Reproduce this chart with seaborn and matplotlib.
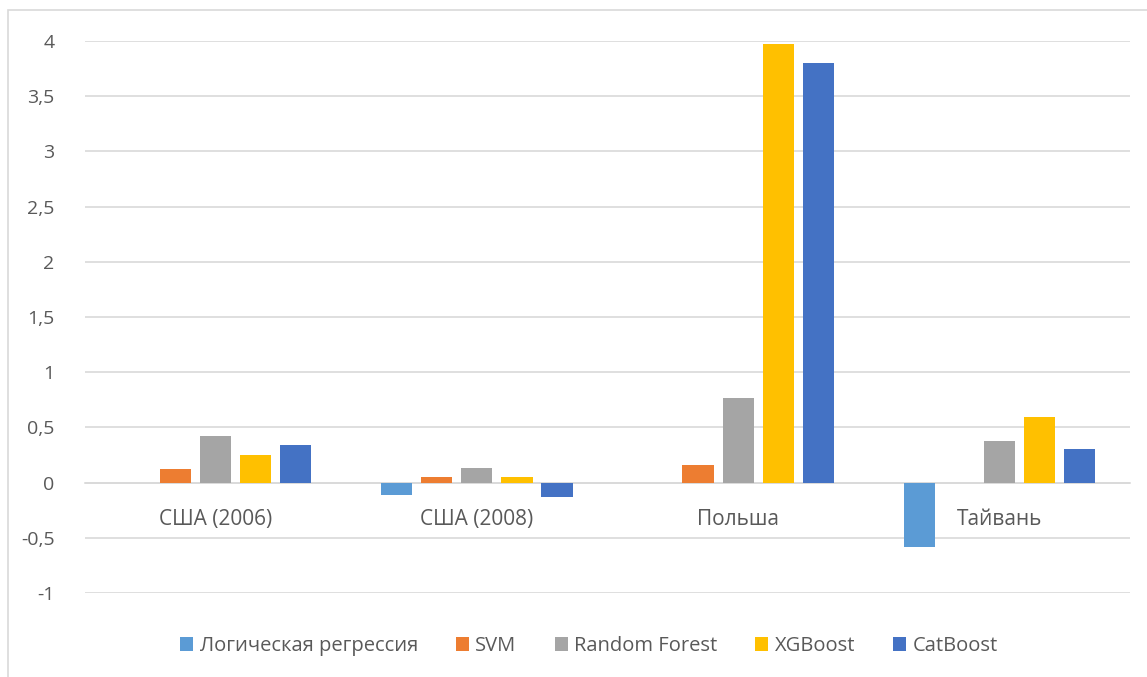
import matplotlib
matplotlib.use("Agg")
import matplotlib.pyplot as plt
import matplotlib.ticker as mticker
from matplotlib.patches import Rectangle
import seaborn as sns
import pandas as pd

categories = ["США (2006)", "США (2008)", "Польша", "Тайвань"]
models = ["Логическая регрессия", "SVM", "Random Forest", "XGBoost", "CatBoost"]
logreg = [0.0, -0.11, 0.0, -0.58]
svm = [0.12, 0.05, 0.16, 0.0]
rforest = [0.425, 0.135, 0.765, 0.375]
xgboost = [0.25, 0.05, 3.97, 0.595]
catboost = [0.34, -0.13, 3.80, 0.30]
colors = ["#5B9BD5", "#ED7D31", "#A5A5A5", "#FFC000", "#4472C4"]
yticks = [-1, -0.5, 0, 0.5, 1, 1.5, 2, 2.5, 3, 3.5, 4]

series = [logreg, svm, rforest, xgboost, catboost]
rows = []
for m, vals in zip(models, series):
    for c, v in zip(categories, vals):
        rows.append({"cat": c, "model": m, "value": v})
df = pd.DataFrame(rows)

sns.set_theme(style="white")
plt.rcParams["font.family"] = ["Open Sans", "DejaVu Sans"]

fig = plt.figure(figsize=(11.47, 6.77), dpi=100)
ax = fig.add_axes([85 / 1147, 1 - 593 / 677, (1130 - 85) / 1147, (593 - 41) / 677])

sns.barplot(data=df, x="cat", y="value", hue="model", order=categories,
            hue_order=models, palette=colors, width=0.766, gap=0.22,
            saturation=1, ax=ax, zorder=3, linewidth=0)

ax.set_ylim(-1, 4)
ax.set_xlim(-0.5, 3.5)
ax.set_yticks(yticks)
ax.yaxis.set_major_formatter(mticker.FuncFormatter(
    lambda v, p: ("%g" % v).replace(".", ",")))
ax.grid(axis="y", color="#d9d9d9", linewidth=1.2, zorder=0)
ax.set_axisbelow(True)
for s in ["top", "right", "left"]:
    ax.spines[s].set_visible(False)
ax.spines["bottom"].set_position(("data", 0))
ax.spines["bottom"].set_color("#d9d9d9")
ax.spines["bottom"].set_linewidth(1.2)
ax.tick_params(axis="both", length=0, labelcolor="#595959")
ax.tick_params(axis="x", pad=19, labelsize=15)
ax.tick_params(axis="y", pad=22, labelsize=14)
ax.set_xlabel("")
ax.set_ylabel("")

handles, labels = ax.get_legend_handles_labels()
ax.get_legend().remove()
fig.legend(handles, labels, loc="center",
           bbox_to_anchor=(589 / 1147, 1 - 646 / 677),
           ncol=5, frameon=False, fontsize=14.5, handlelength=0.65,
           handleheight=0.65, handletextpad=0.3, columnspacing=1.9,
           labelcolor="#595959")

fig.patches.append(Rectangle((8 / 1147, -0.1), 1.2, 1 - 10 / 677 + 0.1,
                             transform=fig.transFigure, fill=False,
                             edgecolor="#d9d9d9", linewidth=1.2))

fig.savefig("out.png", dpi=100)
